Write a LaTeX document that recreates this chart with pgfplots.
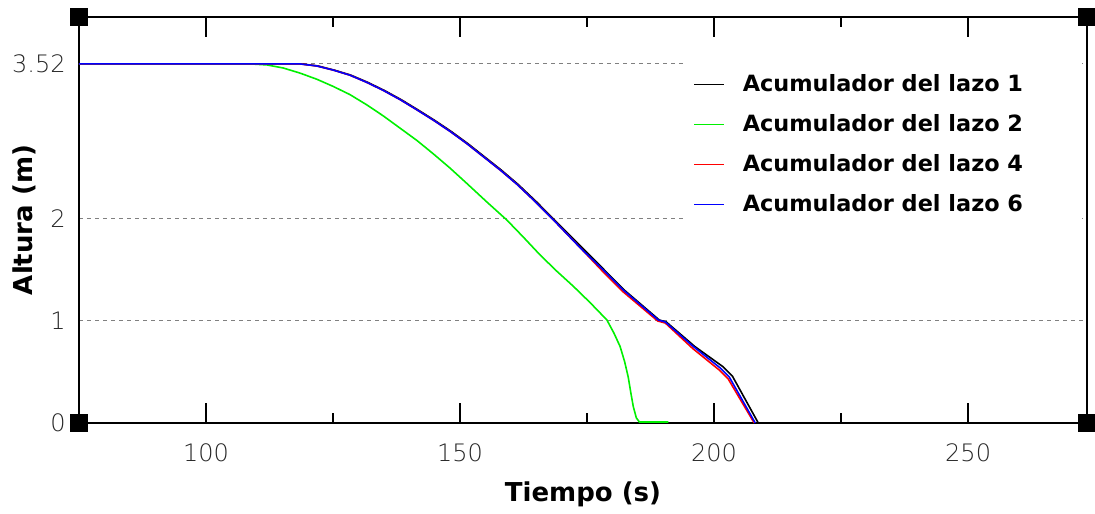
\documentclass[border=0pt]{standalone}
\usepackage{fontspec}
\setmainfont{DejaVu Sans}
\newfontfamily\thinfont{DejaVu Sans ExtraLight}
\usepackage{pgfplots}
\pgfplotsset{compat=1.18}
\definecolor{cgreen}{RGB}{0,240,0}
\begin{document}
\begin{tikzpicture}
\begin{axis}[
  scale only axis, width=504pt, height=203pt,
  xmin=75, xmax=273.4, ymin=0, ymax=3.98,
  clip=false,
  axis line style={line width=0.8pt, black},
  xtick={100,150,200,250}, minor xtick={125,175,225},
  tick align=inside, xtick pos=both,
  major tick length=10pt, minor tick length=5pt,
  tick style={line width=0.8pt, black},
  ytick={0,1,2,3.52}, yticklabels={0,1,2,3.52},
  ytick style={draw=none},
  ymajorgrids, grid style={gray, line width=0.5pt, dash pattern=on 2pt off 2pt},
  /pgf/number format/assume math mode=true,
  ticklabel style={font=\thinfont\fontsize{12}{14}\selectfont, text=black!85},
  xticklabel style={anchor=north, inner sep=0pt, yshift=-10pt},
  yticklabel style={anchor=east, inner sep=0pt, xshift=-6.5pt},
  xlabel={Tiempo (s)},
  xlabel style={at={([yshift=-39pt]rel axis cs:0.5,0)}, anchor=base, font=\bfseries\fontsize{13}{15}\selectfont},
  ylabel={Altura (m)},
  ylabel style={at={([xshift=-23pt]rel axis cs:0,0.5)}, rotate=0, anchor=base, font=\bfseries\fontsize{13}{15}\selectfont},
  legend style={at={(rel axis cs:0.601,0.889)}, anchor=north west, draw=none, fill=white,
    font=\bfseries\fontsize{11.2}{13}\selectfont, inner xsep=4pt, inner ysep=4pt, row sep=6pt},
  legend cell align=left,
  /tikz/every odd column/.append style={column sep=7pt},
  legend image code/.code={\draw[#1, line width=0.8pt] (0pt,0pt) -- (15pt,0pt);},
]
\addplot[black, line width=0.8pt] coordinates {
(75,3.52) (118.7,3.52) (122.0,3.50) (125.2,3.46) (128.5,3.41) (131.8,3.34) (135.1,3.26) (138.4,3.17) (141.7,3.07) (144.9,2.97) (148.2,2.86) (151.5,2.74) (154.8,2.61) (158.1,2.48) (161.4,2.34) (165.0,2.17) (168.6,1.99) (174.2,1.71) (178.4,1.50) (182.4,1.30) (189.2,1.01) (190.6,0.99) (196.2,0.75) (201.8,0.55) (203.6,0.46) (208.7,0)
};
\addplot[cgreen, line width=0.8pt] coordinates {
(75,3.52) (108.7,3.52) (112,3.51) (115.2,3.48) (118.5,3.43) (121.8,3.37) (125,3.30) (128.3,3.22) (131.6,3.12) (134.9,3.01) (138.2,2.89) (141.5,2.77) (144.7,2.64) (148,2.50) (151.3,2.35) (155.2,2.17) (159.2,1.99) (162.5,1.82) (165.7,1.65) (169,1.49) (172.3,1.34) (175.6,1.18) (178.9,1.01) (180.3,0.88) (181.5,0.75) (182.4,0.60) (183.1,0.45) (183.6,0.30) (184.1,0.16) (184.7,0.05) (185.3,0.01) (191,0.01)
};
\addplot[red, line width=0.8pt] coordinates {
(75,3.52) (118.5,3.52) (121.8,3.50) (125,3.46) (128.3,3.41) (131.6,3.34) (134.9,3.26) (138.2,3.17) (141.5,3.07) (144.7,2.97) (148,2.86) (151.3,2.74) (154.6,2.61) (157.9,2.48) (161.2,2.34) (164.8,2.17) (168.4,1.99) (174,1.70) (178,1.49) (182,1.29) (188.9,1.00) (190.4,0.98) (195.8,0.73) (201.0,0.52) (202.8,0.43) (207.9,0)
};
\addplot[blue, line width=0.8pt] coordinates {
(75,3.52) (118.5,3.52) (121.8,3.50) (125,3.46) (128.3,3.41) (131.6,3.34) (134.9,3.26) (138.2,3.17) (141.5,3.07) (144.7,2.97) (148,2.86) (151.3,2.74) (154.6,2.61) (157.9,2.48) (161.2,2.34) (164.8,2.17) (168.4,1.99) (174,1.70) (178.2,1.50) (182.2,1.30) (189,1.01) (190.4,0.99) (195.9,0.75) (201.2,0.54) (203,0.45) (208.1,0)
};
\legend{Acumulador del lazo 1\hspace*{23.5pt}, Acumulador del lazo 2\hspace*{23.5pt}, Acumulador del lazo 4\hspace*{23.5pt}, Acumulador del lazo 6\hspace*{23.5pt}}
\addplot[only marks, mark=square*, mark size=4.2pt, black, forget plot] coordinates {(75,0) (273.4,0) (75,3.98) (273.4,3.98)};
\end{axis}
\pgfresetboundingbox
\useasboundingbox (-39.5pt,-45pt) rectangle (508pt,211.5pt);
\end{tikzpicture}
\end{document}
